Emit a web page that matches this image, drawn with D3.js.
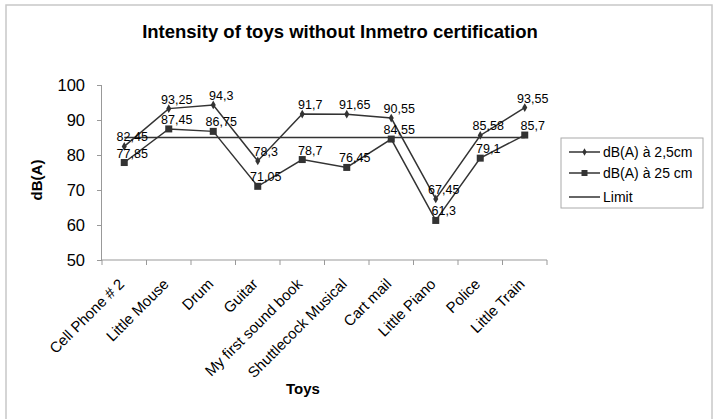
<!DOCTYPE html>
<html>
<head>
<meta charset="utf-8">
<script src="https://cdn.jsdelivr.net/npm/d3@7"></script>
<style>
  body { margin: 0; background: #fff; }
  svg text { font-family: "Liberation Sans", Arial, sans-serif; fill: #000; }
</style>
</head>
<body>
<div id="chart"></div>
<script>
var toys = ['Cell Phone # 2', 'Little Mouse', 'Drum', 'Guitar', 'My first sound book',
            'Shuttlecock Musical', 'Cart mail', 'Little Piano', 'Police', 'Little Train'];
var near = [82.45, 93.25, 94.3, 78.3, 91.7, 91.65, 90.55, 67.45, 85.58, 93.55];
var far = [77.85, 87.45, 86.75, 71.05, 78.7, 76.45, 84.55, 61.3, 79.1, 85.7];
var limit = [85, 85, 85, 85, 85, 85, 85, 85, 85, 85];
var yTicks = [50, 60, 70, 80, 90, 100];
var seriesNames = ['dB(A) à 2,5cm', 'dB(A) à 25 cm', 'Limit'];

var width = 717, height = 419,
    plot = { left: 102, right: 547, top: 85, bottom: 260 },
    lineColor = '#333',
    axisColor = '#999';

var svg = d3.select('#chart')
            .append('svg')
              .attr('width', width)
              .attr('height', height);

// chart border
svg.append('rect')
   .attr('x', 6).attr('y', 5)
   .attr('width', 706).attr('height', 430)
   .attr('fill', 'none')
   .attr('stroke', '#c8c8c8')
   .attr('stroke-width', 1.5);

var x = d3.scaleBand().domain(toys).range([plot.left, plot.right]);
var y = d3.scaleLinear().domain([50, 100]).range([plot.bottom, plot.top]);
function cx(d, i) { return x(toys[i]) + x.bandwidth() / 2; }

// y axis
var yAxis = svg.append('g')
   .attr('transform', 'translate(' + plot.left + ',0)')
   .call(d3.axisLeft(y).tickValues(yTicks).tickSize(5).tickPadding(12));
yAxis.selectAll('text').style('font-size', '16.5px');

// x axis with ticks at band edges
var xAxis = svg.append('g')
   .attr('transform', 'translate(0,' + plot.bottom + ')');
xAxis.append('line')
     .attr('x1', plot.left).attr('x2', plot.right);
xAxis.selectAll('.tk')
     .data(toys.concat(['']))
     .enter().append('line')
       .attr('class', 'tk')
       .attr('x1', function(d, i) { return plot.left + i * x.bandwidth(); })
       .attr('x2', function(d, i) { return plot.left + i * x.bandwidth(); })
       .attr('y1', 0).attr('y2', 5);
xAxis.selectAll('.lbl')
     .data(toys)
     .enter().append('text')
       .attr('class', 'lbl')
       .attr('text-anchor', 'end')
       .attr('transform', function(d, i) {
         return 'translate(' + (cx(d, i) + 1) + ',25) rotate(-45)';
       })
       .style('font-size', '15px')
       .attr('fill', '#222')
       .text(function(d) { return d; });

svg.selectAll('.domain, .tick line, g line')
   .attr('stroke', axisColor);
yAxis.select('.domain').attr('d', 'M-0.5,' + plot.top + 'V' + plot.bottom);

// lines
var line = d3.line().x(cx).y(function(d) { return y(d); });
[limit, far, near].forEach(function(data) {
  svg.append('path')
     .datum(data)
     .attr('d', line)
     .attr('fill', 'none')
     .attr('stroke', lineColor)
     .attr('stroke-width', 1.5);
});

// markers
svg.selectAll('.dia')
   .data(near).enter().append('path')
     .attr('d', d3.symbol(d3.symbolDiamond, 22))
     .attr('transform', function(d, i) { return 'translate(' + cx(d, i) + ',' + y(d) + ')'; })
     .attr('fill', lineColor);
svg.selectAll('.sq')
   .data(far).enter().append('rect')
     .attr('x', function(d, i) { return cx(d, i) - 3.5; })
     .attr('y', function(d) { return y(d) - 3.5; })
     .attr('width', 7).attr('height', 7)
     .attr('fill', lineColor);

// data labels
function fmt(v) { return String(v).replace('.', ','); }
[near, far].forEach(function(data) {
  svg.append('g').selectAll('text')
     .data(data).enter().append('text')
       .attr('x', function(d, i) { return cx(d, i) + 8; })
       .attr('y', function(d) { return y(d) - 5; })
       .attr('text-anchor', 'middle')
       .style('font-size', '12.5px')
       .attr('fill', '#333')
       .text(fmt);
});

// titles
svg.append('text')
   .attr('x', 340).attr('y', 38)
   .attr('text-anchor', 'middle')
   .style('font-size', '18.5px').style('font-weight', 'bold')
   .text('Intensity of toys without Inmetro certification');
svg.append('text')
   .attr('x', 303).attr('y', 394)
   .attr('text-anchor', 'middle')
   .style('font-size', '15px').style('font-weight', 'bold')
   .text('Toys');
svg.append('text')
   .attr('transform', 'translate(42,180) rotate(-90)')
   .attr('text-anchor', 'middle')
   .style('font-size', '15px').style('font-weight', 'bold')
   .text('dB(A)');

// legend
var legend = svg.append('g').attr('transform', 'translate(561,138)');
legend.append('rect')
      .attr('width', 142).attr('height', 70)
      .attr('fill', '#fff')
      .attr('stroke', '#aaa');
var keys = legend.selectAll('.legend-key')
                 .data(seriesNames).enter().append('g')
                 .attr('class', 'legend-key')
                 .attr('transform', function(d, i) {
                   return 'translate(8,' + [14, 35, 59][i] + ')';
                 });
keys.append('line')
    .attr('x1', 0).attr('x2', 31)
    .attr('stroke', lineColor).attr('stroke-width', 1.5);
keys.filter(function(d, i) { return i === 0; })
    .append('path')
    .attr('d', d3.symbol(d3.symbolDiamond, 16))
    .attr('transform', 'translate(15.5,0)')
    .attr('fill', lineColor);
keys.filter(function(d, i) { return i === 1; })
    .append('rect')
    .attr('x', 12.5).attr('y', -3).attr('width', 6).attr('height', 6)
    .attr('fill', lineColor);
keys.append('text')
    .attr('x', 34).attr('y', 5)
    .style('font-size', '14px')
    .text(function(d) { return d; });
</script>
</body>
</html>
